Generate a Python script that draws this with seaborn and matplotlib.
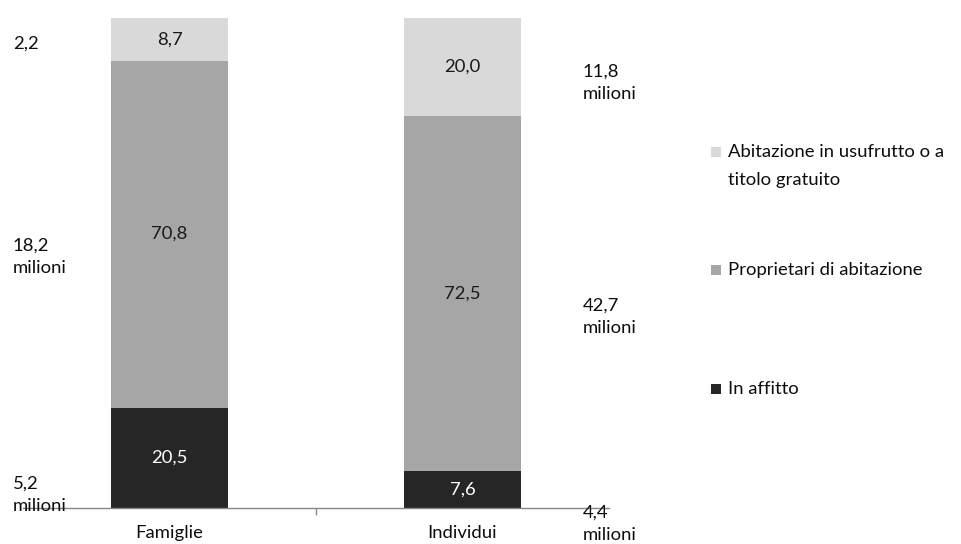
import matplotlib
matplotlib.use("Agg")
import matplotlib.pyplot as plt
import seaborn as sns
import pandas as pd
import numpy as np
from matplotlib.patches import Rectangle

# ---- data ----
categories = ["Famiglie", "Individui"]
series_names = ["In affitto", "Proprietari di abitazione",
                "Abitazione in usufrutto o a\ntitolo gratuito"]
in_affitto = [20.5, 7.6]
proprietari = [70.8, 72.5]
usufrutto = [8.7, 20.0]
value_labels = [["20,5", "7,6"], ["70,8", "72,5"], ["8,7", "20,0"]]
left_notes = ["5,2\nmilioni", "18,2\nmilioni", "2,2"]
right_notes = ["4,4\nmilioni", "42,7\nmilioni", "11,8\nmilioni"]

colors = ["#262626", "#a6a6a6", "#d9d9d9"]
text_colors = ["white", "#1a1a1a", "#1a1a1a"]

sns.set_theme(style="white")
plt.rcParams['font.family'] = ['Lato', 'DejaVu Sans']
FS = 13.3
TXT = "#0d0d0d"

W, H = 961, 544
fig = plt.figure(figsize=(W / 100, H / 100), dpi=100)
x0, x1, yb, yt = 23, 609, 508, 18
ax = fig.add_axes([x0 / W, (H - yb) / H, (x1 - x0) / W, (yb - yt) / H])

series = [in_affitto, proprietari, usufrutto]
cum = np.cumsum(np.array(series), axis=0)
for i in range(2, -1, -1):
    d = pd.DataFrame({"cat": categories, "val": cum[i]})
    sns.barplot(data=d, x="cat", y="val", color=colors[i], width=0.4,
                saturation=1, ax=ax, linewidth=0)

# value labels in segments
bottoms = np.vstack([np.zeros(2), cum[:-1]])
for i in range(3):
    for j in range(2):
        ax.text(j, bottoms[i][j] + series[i][j] / 2, value_labels[i][j],
                ha="center", va="center", fontsize=FS, color=text_colors[i])

ax.set_xlim(-0.5, 1.5)
ax.set_ylim(0, 100)
ax.set_xlabel("")
ax.set_ylabel("")
ax.set_yticks([])
ax.set_xticks([0, 1])
ax.set_xticklabels(categories, fontsize=FS, color=TXT)
ax.tick_params(axis="x", which="major", length=0, pad=12)
ax.set_xticks([0.5], minor=True)
ax.tick_params(axis="x", which="minor", length=5, width=1, color="#868686",
               direction="out", bottom=True)
for s in ["top", "left", "right"]:
    ax.spines[s].set_visible(False)
ax.spines["bottom"].set_color("#868686")
ax.spines["bottom"].set_linewidth(1)

# side notes (pixel positions converted to figure coords)
def fy(py):
    return (H - py) / H

left_y = [495, 257, 44]
right_y = [524, 317, 83]
for t, py in zip(left_notes, left_y):
    fig.text(13 / W, fy(py), t, ha="left", va="center", fontsize=FS,
             color=TXT, linespacing=1.5)
for t, py in zip(right_notes, right_y):
    fig.text(583 / W, fy(py), t, ha="left", va="center", fontsize=FS,
             color=TXT, linespacing=1.5)

# legend (manual)
leg_y = [389, 270, 152]
for i in range(3):
    py = leg_y[i]
    fig.patches.append(Rectangle((711 / W, fy(py + 5)), 10 / W, 10 / H,
                                 transform=fig.transFigure,
                                 facecolor=colors[i], edgecolor="none"))
    lines = series_names[i].split("\n")
    for k, ln in enumerate(lines):
        fig.text(728 / W, fy(py + 28 * k), ln, ha="left", va="center",
                 fontsize=FS, color=TXT)

fig.savefig("out.png", dpi=100)
